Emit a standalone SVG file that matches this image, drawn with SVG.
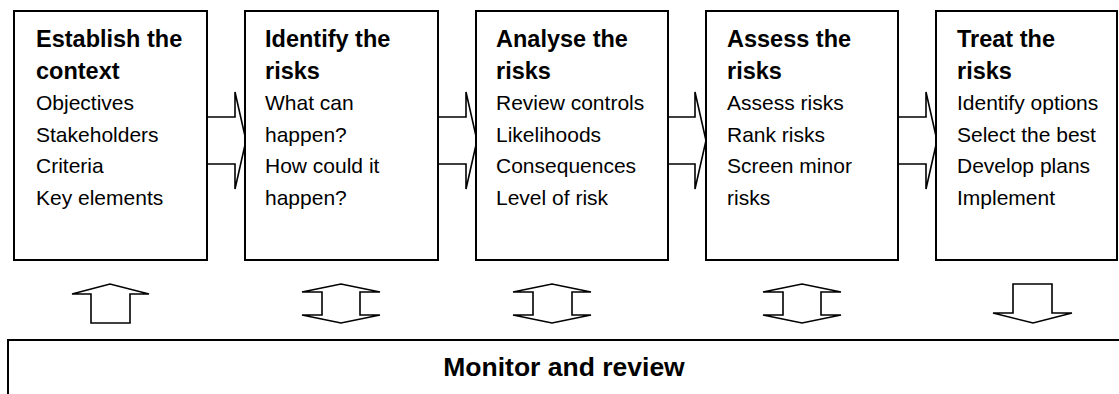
<svg xmlns="http://www.w3.org/2000/svg" width="1119" height="394" viewBox="0 0 1119 394">
<style>
.box{fill:#fff;stroke:#000;stroke-width:2}
.arr{fill:#fff;stroke:#000;stroke-width:1.6;stroke-linejoin:miter}
.t{font-family:"Liberation Sans",Arial,sans-serif;font-size:21px;fill:#000}
.h{font-family:"Liberation Sans",Arial,sans-serif;font-size:23.5px;font-weight:bold;fill:#000}
.m{font-family:"Liberation Sans",Arial,sans-serif;font-size:26.5px;font-weight:bold;fill:#000}
</style>
<rect width="1119" height="394" fill="#fff"/>
<g id="connectors">
<path class="arr" d="M207,117 H235 V92 L246,140.5 L235,189 V164 H207"/>
<path class="arr" d="M438,117 H466 V92 L477,140.5 L466,189 V164 H438"/>
<path class="arr" d="M668,117 H695 V92 L706,140.5 L695,189 V164 H668"/>
<path class="arr" d="M898,117 H926 V92 L937,140.5 L926,189 V164 H898"/>
<polygon class="arr" points="91,323 91,294 72,294 110,284 149,294 130,294 130,323"/>
<polygon class="arr" points="302,292 341,284 380,292 360,292 360,315 380,315 341,323 302,315 322,315 322,292"/>
<polygon class="arr" points="513,292 552,284 591,292 572,292 572,315 591,315 552,323 513,315 533,315 533,292"/>
<polygon class="arr" points="763,292 802,284 841,292 821,292 821,315 841,315 802,323 763,315 783,315 783,292"/>
<polygon class="arr" points="1013,284 1052,284 1052,313 1072,313 1033,323 993,313 1013,313"/>
</g>
<g id="establish">
<rect class="box" x="14" y="11" width="193" height="249"/>
<text class="h" x="36" y="47">Establish the</text>
<text class="h" x="36" y="79">context</text>
<text class="t" x="36" y="110">Objectives</text>
<text class="t" x="36" y="142">Stakeholders</text>
<text class="t" x="36" y="173">Criteria</text>
<text class="t" x="36" y="205">Key elements</text>
</g>
<g id="identify">
<rect class="box" x="245" y="11" width="193" height="249"/>
<text class="h" x="265" y="47">Identify the</text>
<text class="h" x="265" y="79">risks</text>
<text class="t" x="265" y="110">What can</text>
<text class="t" x="265" y="142">happen?</text>
<text class="t" x="265" y="173">How could it</text>
<text class="t" x="265" y="205">happen?</text>
</g>
<g id="analyse">
<rect class="box" x="476" y="11" width="192" height="249"/>
<text class="h" x="496" y="47">Analyse the</text>
<text class="h" x="496" y="79">risks</text>
<text class="t" x="496" y="110">Review controls</text>
<text class="t" x="496" y="142">Likelihoods</text>
<text class="t" x="496" y="173">Consequences</text>
<text class="t" x="496" y="205">Level of risk</text>
</g>
<g id="assess">
<rect class="box" x="706" y="11" width="192" height="249"/>
<text class="h" x="727" y="47">Assess the</text>
<text class="h" x="727" y="79">risks</text>
<text class="t" x="727" y="110">Assess risks</text>
<text class="t" x="727" y="142">Rank risks</text>
<text class="t" x="727" y="173">Screen minor</text>
<text class="t" x="727" y="205">risks</text>
</g>
<g id="treat">
<rect class="box" x="936" y="11" width="181" height="249"/>
<text class="h" x="957" y="47">Treat the</text>
<text class="h" x="957" y="79">risks</text>
<text class="t" x="957" y="110">Identify options</text>
<text class="t" x="957" y="142">Select the best</text>
<text class="t" x="957" y="173">Develop plans</text>
<text class="t" x="957" y="205">Implement</text>
</g>
<g id="monitor">
<rect class="box" x="8" y="340" width="1200" height="100"/>
<text class="m" x="564" y="376" text-anchor="middle">Monitor and review</text>
</g>
</svg>
